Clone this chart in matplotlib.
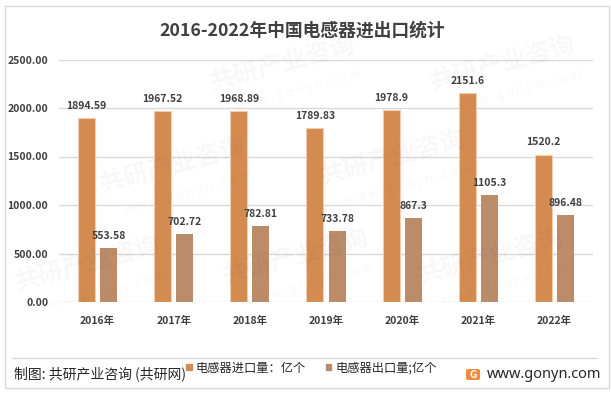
import matplotlib
matplotlib.use("Agg")
import matplotlib.pyplot as plt
from matplotlib.patches import Rectangle, FancyBboxPatch
from matplotlib.lines import Line2D
import numpy as np

plt.rcParams['font.family'] = ['Noto Sans CJK SC', 'DejaVu Sans']

years = ["2016年", "2017年", "2018年", "2019年", "2020年", "2021年", "2022年"]
imports = [1894.59, 1967.52, 1968.89, 1789.83, 1978.9, 2151.6, 1520.2]
exports = [553.58, 702.72, 782.81, 733.78, 867.3, 1105.3, 896.48]
import_labels = ["1894.59", "1967.52", "1968.89", "1789.83", "1978.9", "2151.6", "1520.2"]
export_labels = ["553.58", "702.72", "782.81", "733.78", "867.3", "1105.3", "896.48"]
yticks = [0, 500, 1000, 1500, 2000, 2500]
ytick_labels = ["0.00", "500.00", "1000.00", "1500.00", "2000.00", "2500.00"]
series_names = ["电感器进口量：亿个", "电感器出口量;亿个"]

W, H = 611, 394
fig = plt.figure(figsize=(W / 100, H / 100), dpi=100)
fig.patch.set_facecolor("white")

# outer border
fig.patches.append(Rectangle((5 / W, 1 - 388 / H), (609 - 5) / W, (388 - 6) / H,
                             transform=fig.transFigure, fill=False,
                             edgecolor="#D9D9D9", linewidth=1.0))

# faint watermarks
for (wx, wy) in [(0.34, 0.84), (0.70, 0.84), (0.16, 0.58), (0.52, 0.60),
                 (0.02, 0.33), (0.36, 0.35), (0.68, 0.35)]:
    fig.text(wx, wy, "共研产业咨询", rotation=15, fontsize=18, fontweight="bold",
             color="#000000", alpha=0.03, ha="left", va="center")
    fig.text(wx + 0.04, wy - 0.07, "w w w . g o n y n . c o m", rotation=15, fontsize=9,
             color="#000000", alpha=0.03, ha="left", va="center")

left, right = 59.4 / W, 592.6 / W
bottom, top = 1 - 302 / H, 1 - 59.5 / H
ax = fig.add_axes([left, bottom, right - left, top - bottom])
ax.set_facecolor("none")

x = np.arange(len(years))
bw = 0.223
off = 0.145
c_imp = "#D48B4F"
c_exp = "#BB8C6A"
ax.bar(x - off, imports, width=bw, color=c_imp, edgecolor="#F3CBAE", linewidth=0.8, zorder=3)
ax.bar(x + off, exports, width=bw, color=c_exp, edgecolor="none", zorder=3)

for i in range(len(years)):
    ax.text(x[i] - off, imports[i] + 75, import_labels[i], ha="center", va="bottom",
            fontsize=7.5, fontweight="bold", color="#404040", zorder=4)
    ax.text(x[i] + off, exports[i] + 75, export_labels[i], ha="center", va="bottom",
            fontsize=7.5, fontweight="bold", color="#404040", zorder=4)

ax.set_xlim(-0.5, len(years) - 0.5)
ax.set_ylim(0, 2500)
ax.set_yticks(yticks)
ax.set_yticklabels(ytick_labels)
ax.set_xticks(x)
ax.set_xticklabels(years)
ax.tick_params(axis="both", length=0, labelsize=7.5, labelcolor="#404040")
ax.tick_params(axis="y", pad=8)
ax.tick_params(axis="x", pad=10)
for lab in ax.get_yticklabels() + ax.get_xticklabels():
    lab.set_fontweight("bold")
ax.grid(axis="y", color="#D9D9D9", linewidth=1.0, zorder=0)
for s in ax.spines.values():
    s.set_visible(False)

# title
fig.text(302 / W, 1 - 31 / H, "2016-2022年中国电感器进出口统计", ha="center", va="center",
         fontsize=12.8, fontweight="bold", color="#404040")

# separator line
fig.add_artist(Line2D([12 / W, 597 / W], [1 - 358 / H, 1 - 358 / H], transform=fig.transFigure,
                      color="#D9D9D9", linewidth=1.0))

# footer
fig.text(14 / W, 1 - 374 / H, "制图: 共研产业咨询 (共研网)", ha="left", va="center",
         fontsize=10, color="#262626")

# legend
handles = [Rectangle((0, 0), 1, 1, color=c_imp), Rectangle((0, 0), 1, 1, color=c_exp)]
fig.legend(handles, series_names, loc="center left", bbox_to_anchor=(186 / W, 1 - 368 / H),
           ncol=2, frameon=False, fontsize=8.8, handlelength=0.45, handleheight=0.45,
           handletextpad=0.35, columnspacing=1.6, borderaxespad=0, borderpad=0,
           labelcolor="#262626")

# logo + website
fig.patches.append(FancyBboxPatch((466 / W, 1 - 380 / H), 14 / W, 11 / H,
                                  boxstyle="round,pad=0,rounding_size=0.004",
                                  transform=fig.transFigure, facecolor="#F08A3C",
                                  edgecolor="none"))
fig.text(473 / W, 1 - 374.5 / H, "G", ha="center", va="center", fontsize=7.5,
         fontweight="bold", color="white")
fig.text(487 / W, 1 - 374 / H, "www.gonyn.com", ha="left", va="center",
         fontsize=10.5, color="#262626", family=["Noto Sans", "DejaVu Sans"])

fig.savefig("out.png", dpi=100, facecolor="white")
